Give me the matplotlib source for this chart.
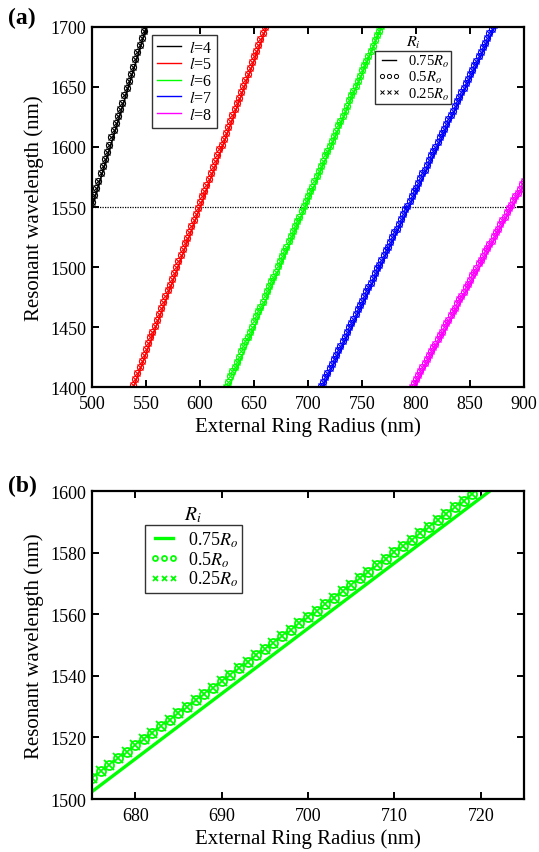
import numpy as np
import matplotlib.pyplot as plt
from matplotlib.lines import Line2D

plt.rcParams['font.family'] = 'Liberation Serif'
plt.rcParams['mathtext.fontset'] = 'stix'

# ---- (a) resonant wavelength vs external radius, modes l=4..8 ----
modes = [4, 5, 6, 7, 8]
mode_colors = ['#000000', '#ff0000', '#00ff00', '#0000ff', '#ff00ff']

# inner radius 0.5Ro / 0.25Ro (they coincide), sampled every 2 nm from r_start
r_start = [500, 536, 624, 712, 796]
lam_inner = [
    [1554, 1560, 1566, 1572, 1578, 1584, 1590, 1596, 1602, 1608, 1614, 1620,
     1626, 1632, 1637, 1643, 1649, 1655, 1661, 1667, 1673, 1679, 1685, 1691,
     1697, 1703],
    [1398, 1402, 1407, 1412, 1417, 1422, 1427, 1432, 1437, 1442, 1446, 1451,
     1456, 1461, 1466, 1471, 1476, 1481, 1485, 1490, 1495, 1500, 1505, 1510,
     1515, 1520, 1524, 1529, 1534, 1539, 1544, 1549, 1554, 1559, 1563, 1568,
     1573, 1578, 1583, 1588, 1593, 1598, 1602, 1607, 1612, 1617, 1622, 1627,
     1632, 1637, 1641, 1646, 1651, 1656, 1661, 1666, 1671, 1676, 1680, 1685,
     1690, 1695, 1700],
    [1400, 1404, 1409, 1413, 1417, 1421, 1425, 1430, 1434, 1438, 1442, 1446,
     1450, 1455, 1459, 1463, 1467, 1471, 1476, 1480, 1484, 1488, 1492, 1496,
     1501, 1505, 1509, 1513, 1517, 1522, 1526, 1530, 1534, 1538, 1542, 1547,
     1551, 1555, 1559, 1563, 1567, 1572, 1576, 1580, 1584, 1588, 1593, 1597,
     1601, 1605, 1609, 1613, 1618, 1622, 1626, 1630, 1634, 1639, 1643, 1647,
     1651, 1655, 1659, 1664, 1668, 1672, 1676, 1680, 1684, 1689, 1693, 1697,
     1701],
    [1401, 1404, 1408, 1412, 1416, 1419, 1423, 1427, 1431, 1434, 1438, 1442,
     1446, 1450, 1453, 1457, 1461, 1465, 1468, 1472, 1476, 1480, 1483, 1487,
     1491, 1495, 1499, 1502, 1506, 1510, 1514, 1517, 1521, 1525, 1529, 1532,
     1536, 1540, 1544, 1548, 1551, 1555, 1559, 1563, 1566, 1570, 1574, 1578,
     1581, 1585, 1589, 1593, 1597, 1600, 1604, 1608, 1612, 1615, 1619, 1623,
     1627, 1630, 1634, 1638, 1642, 1646, 1649, 1653, 1657, 1661, 1664, 1668,
     1672, 1676, 1679, 1683, 1687, 1691, 1695, 1698, 1702],
    [1400, 1403, 1407, 1410, 1413, 1417, 1420, 1423, 1427, 1430, 1433, 1436,
     1440, 1443, 1446, 1450, 1453, 1456, 1460, 1463, 1466, 1470, 1473, 1476,
     1479, 1483, 1486, 1489, 1493, 1496, 1499, 1503, 1506, 1509, 1513, 1516,
     1519, 1522, 1526, 1529, 1532, 1536, 1539, 1542, 1546, 1549, 1552, 1556,
     1559, 1562, 1565, 1569, 1572],
]

# inner radius 0.75Ro
r_outer_line = [
    [500, 525, 550],
    [536, 560, 585, 610, 635, 662],
    [624, 650, 675, 700, 725, 750, 770],
    [712, 740, 770, 800, 830, 874],
    [796, 820, 850, 875, 900],
]
lam_outer_line = [
    [1550, 1624, 1699],
    [1394, 1452, 1513, 1574, 1635, 1701],
    [1394, 1449, 1502, 1555, 1608, 1661, 1704],
    [1397, 1449, 1506, 1562, 1619, 1702],
    [1396, 1436, 1485, 1527, 1568],
]

# ---- (b) zoom on l=6 ----
r_b_start = 675
lam_b_inner = [1506.9, 1509.0, 1511.1, 1513.2, 1515.3, 1517.4, 1519.4, 1521.5,
               1523.6, 1525.7, 1527.8, 1529.9, 1532.0, 1534.1, 1536.2, 1538.3,
               1540.3, 1542.4, 1544.5, 1546.6, 1548.7, 1550.8, 1552.9, 1555.0,
               1557.1, 1559.2, 1561.2, 1563.3, 1565.4, 1567.5, 1569.6, 1571.7,
               1573.8, 1575.9, 1578.0, 1580.1, 1582.1, 1584.2, 1586.3, 1588.4,
               1590.5, 1592.6, 1594.7, 1596.8, 1598.9]
r_b_line = [675, 680, 690, 700, 710, 721]
lam_b_line = [1502.4, 1513.0, 1534.2, 1555.4, 1576.6, 1599.9]

ri_labels = ['0.75$R_o$', '0.5$R_o$', '0.25$R_o$']


def style_axes(ax):
    for sp in ax.spines.values():
        sp.set_linewidth(1.6)
    ax.tick_params(direction='in', length=5, width=1.4, labelsize=13,
                   top=True, right=True)
    ax.tick_params(axis='x', pad=6)
    ax.tick_params(axis='y', pad=4)
    ax.set_xlabel('External Ring Radius (nm)', fontsize=15, labelpad=3)
    ax.set_ylabel('Resonant wavelength (nm)', fontsize=15, labelpad=5)


fig = plt.figure(figsize=(5.39, 8.53), dpi=100)

# Plot (a)
axA = fig.add_axes([0.1707, 0.5451, 0.8015, 0.4221])
axA.axhline(1550, color='k', ls=(0, (1, 1)), lw=0.9, zorder=1)
for i, l in enumerate(modes):
    c = mode_colors[i]
    r = r_start[i] + 2 * np.arange(len(lam_inner[i]))
    axA.plot(r_outer_line[i], lam_outer_line[i], '-', color=c, lw=1.2)
    axA.plot(r, lam_inner[i], 'o', color=c, mfc='none', ms=4.4, mew=0.8)
    axA.plot(r, lam_inner[i], 'x', color=c, ms=4.4, mew=0.8)

axA.set_xlim(500, 900)
axA.set_ylim(1400, 1700)
axA.set_xticks(np.arange(500, 901, 50))
axA.set_yticks(np.arange(1400, 1701, 50))
style_axes(axA)

mode_handles = [Line2D([], [], color=mode_colors[i], lw=1.0)
                for i in range(len(modes))]
legA = axA.legend(mode_handles, ['$l$=%d' % l for l in modes],
                  loc='upper left', bbox_to_anchor=(0.139, 0.978),
                  borderaxespad=0, fontsize=11.5, fancybox=False,
                  framealpha=1, edgecolor='#333333', handlelength=1.5,
                  labelspacing=0.05, handletextpad=0.5, borderpad=0.3)
legA.get_frame().set_linewidth(1.0)
axA.add_artist(legA)

ri_handles = [Line2D([], [], color='k', lw=1.0),
              Line2D([], [], ls='none', marker='o', mfc='none', color='k',
                     ms=3, mew=0.7),
              Line2D([], [], ls='none', marker='x', color='k', ms=3, mew=0.7)]
legA2 = axA.legend(ri_handles, ri_labels, loc='upper left',
                   bbox_to_anchor=(0.655, 0.933), borderaxespad=0,
                   fontsize=10.5, fancybox=False, framealpha=1,
                   edgecolor='#333333', numpoints=3, handlelength=1.6,
                   labelspacing=0.0, handletextpad=0.5, borderpad=0.15)
legA2.get_frame().set_linewidth(1.0)
axA.text(0.745, 0.958, '$R_i$', transform=axA.transAxes, fontsize=11.5,
         ha='center', va='center')

# Plot (b)
axB = fig.add_axes([0.1707, 0.0621, 0.8015, 0.3611])
green = mode_colors[2]
r_b = r_b_start + np.arange(len(lam_b_inner))
axB.plot(r_b_line, lam_b_line, '-', color=green, lw=2.4)
axB.plot(r_b, lam_b_inner, 'o', color=green, mfc='none', ms=6.5, mew=1.3)
axB.plot(r_b, lam_b_inner, 'x', color=green, ms=6.5, mew=1.3)

axB.set_xlim(675, 725)
axB.set_ylim(1500, 1600)
axB.set_xticks(np.arange(680, 721, 10))
axB.set_yticks(np.arange(1500, 1601, 20))
style_axes(axB)

ri_handles_b = [Line2D([], [], color=green, lw=2.4),
                Line2D([], [], ls='none', marker='o', mfc='none', color=green,
                       ms=3.6, mew=1.3),
                Line2D([], [], ls='none', marker='x', color=green, ms=3.6,
                       mew=1.3)]
legB = axB.legend(ri_handles_b, ri_labels, loc='upper left',
                  bbox_to_anchor=(0.123, 0.890), borderaxespad=0,
                  fontsize=13, fancybox=False, framealpha=1,
                  edgecolor='#333333', numpoints=3, handlelength=1.6,
                  labelspacing=0.02, handletextpad=0.5, borderpad=0.25)
legB.get_frame().set_linewidth(1.0)
axB.text(0.234, 0.925, '$R_i$', transform=axB.transAxes, fontsize=14,
         ha='center', va='center')

fig.text(0.014, 0.991, '(a)', fontsize=17, fontweight='bold', va='top')
fig.text(0.014, 0.442, '(b)', fontsize=17, fontweight='bold', va='top')

fig.savefig('out.png', dpi=100)
